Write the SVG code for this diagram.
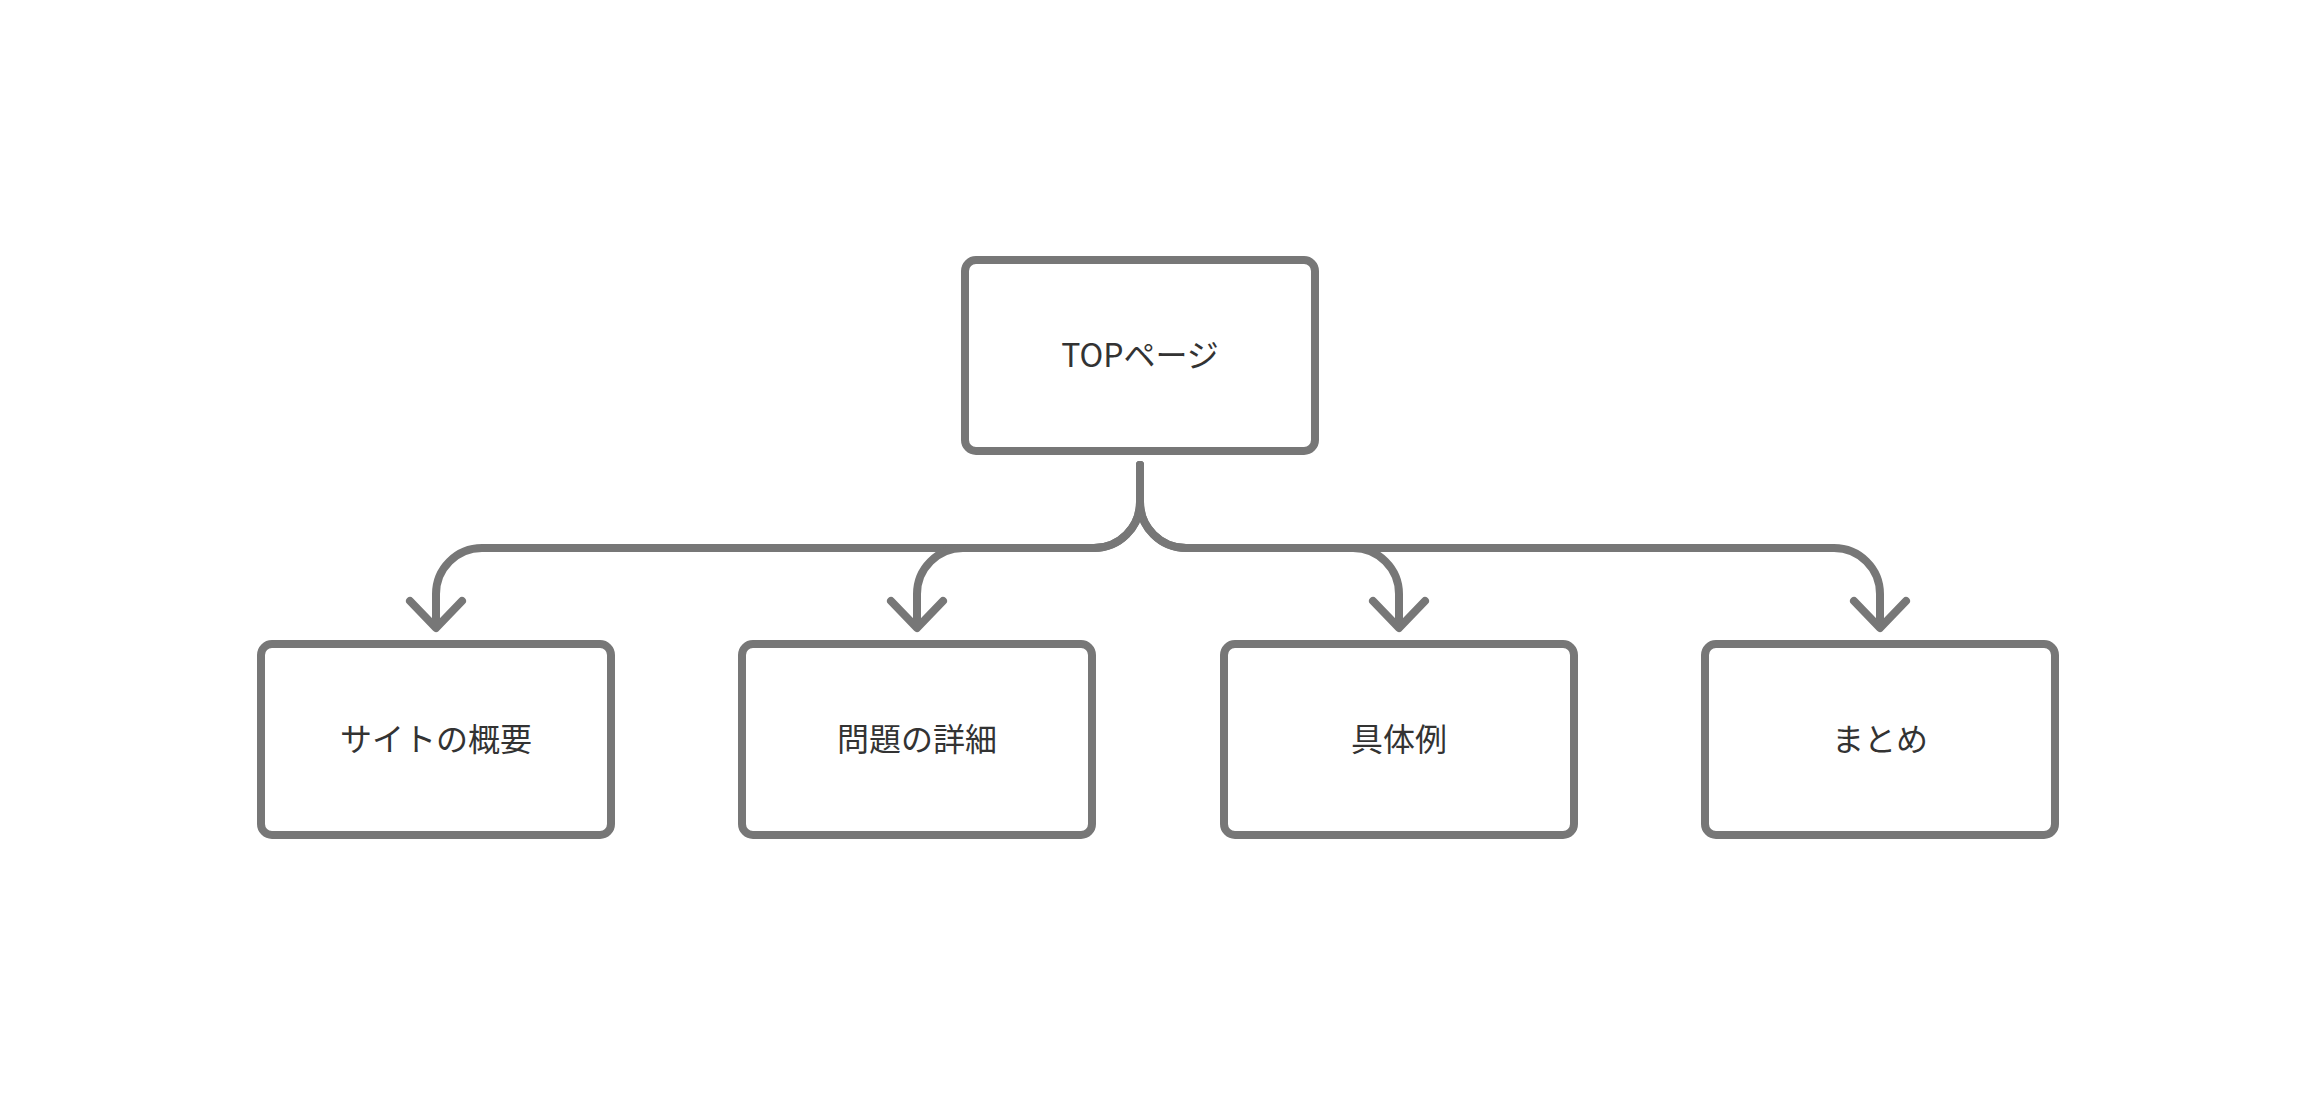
<svg xmlns="http://www.w3.org/2000/svg" width="2316" height="1096" viewBox="0 0 2316 1096">
<style>
.box{fill:#fff;stroke:#777;stroke-width:8}
.lbl{font-family:"Noto Sans CJK JP","Noto Sans",sans-serif;font-size:32px;font-weight:400;fill:#333;text-anchor:middle}
.con{fill:none;stroke:#777;stroke-width:8;stroke-linecap:round;stroke-linejoin:round}
</style>
<rect width="2316" height="1096" fill="#fff"/>
<g id="connectors" class="con">
<path d="M1140 465 V502 A46 46 0 0 1 1094 548 H482 A46 46 0 0 0 436 594 V627 M410 601 L436 628 L462 601"/>
<path d="M1140 465 V502 A46 46 0 0 1 1094 548 H963 A46 46 0 0 0 917 594 V627 M891 601 L917 628 L943 601"/>
<path d="M1140 465 V502 A46 46 0 0 0 1186 548 H1353 A46 46 0 0 1 1399 594 V627 M1373 601 L1399 628 L1425 601"/>
<path d="M1140 465 V502 A46 46 0 0 0 1186 548 H1834 A46 46 0 0 1 1880 594 V627 M1854 601 L1880 628 L1906 601"/>
</g>
<g id="top"><rect class="box" x="965" y="260" width="350" height="191" rx="11"/><text class="lbl" x="1140" y="367">TOPページ</text></g>
<g id="n1"><rect class="box" x="261" y="644" width="350" height="191" rx="11"/><text class="lbl" x="436" y="751">サイトの概要</text></g>
<g id="n2"><rect class="box" x="742" y="644" width="350" height="191" rx="11"/><text class="lbl" x="917" y="751">問題の詳細</text></g>
<g id="n3"><rect class="box" x="1224" y="644" width="350" height="191" rx="11"/><text class="lbl" x="1399" y="751">具体例</text></g>
<g id="n4"><rect class="box" x="1705" y="644" width="350" height="191" rx="11"/><text class="lbl" x="1880" y="751">まとめ</text></g>
</svg>
